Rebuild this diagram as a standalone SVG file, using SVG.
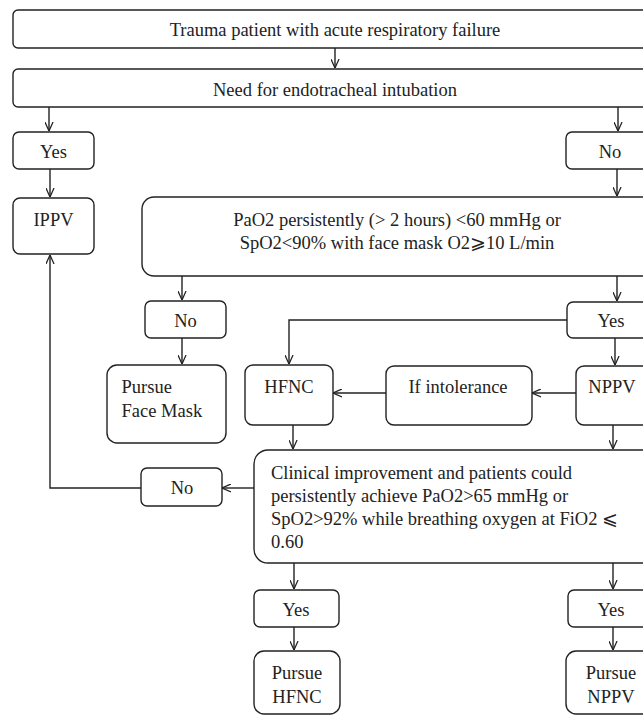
<svg xmlns="http://www.w3.org/2000/svg" width="643" height="715" viewBox="0 0 643 715">
<style>
.b{fill:#fff;stroke:#222;stroke-width:1.4}
.t{font-family:"Liberation Serif","Times New Roman",serif;font-size:18.5px;fill:#222}
.c{text-anchor:middle}
.l{fill:none;stroke:#222;stroke-width:1.4}
</style>
<defs>
<marker id="a" viewBox="0 0 10 10" refX="10" refY="5" markerWidth="9" markerHeight="9" markerUnits="userSpaceOnUse" orient="auto">
<path d="M0,0.5 L10,5 L0,9.5" fill="none" stroke="#222" stroke-width="1.4"/>
</marker>
</defs>
<rect width="643" height="715" fill="#fff"/>
<g id="connectors" class="l" marker-end="url(#a)">
<path d="M335,48 V68"/>
<path d="M49,107 V131"/>
<path d="M618,107 V131"/>
<path d="M50,169 V197"/>
<path d="M617,169 V196"/>
<path d="M182,276 V300"/>
<path d="M617,276 V301"/>
<path d="M182,338 V364"/>
<path d="M567,320 H289 V364"/>
<path d="M615,338 V365"/>
<path d="M576,393 H532"/>
<path d="M386,393 H333"/>
<path d="M293,425 V449"/>
<path d="M613,425 V449"/>
<path d="M254,488 H222"/>
<path d="M141,488 H50 V255"/>
<path d="M294,563 V589"/>
<path d="M613,563 V589"/>
<path d="M294,627 V650"/>
<path d="M613,627 V650"/>
</g>
<g id="n1"><rect class="b" x="13" y="10" width="650" height="38" rx="5"/><text class="t c" x="335" y="36">Trauma patient with acute respiratory failure</text></g>
<g id="n2"><rect class="b" x="13" y="69" width="650" height="38" rx="5"/><text class="t c" x="335" y="95.5">Need for endotracheal intubation</text></g>
<g id="n3"><rect class="b" x="13" y="132" width="81" height="37" rx="6"/><text class="t c" x="53.5" y="158">Yes</text></g>
<g id="n4"><rect class="b" x="566" y="132" width="90" height="37" rx="6"/><text class="t c" x="610" y="158">No</text></g>
<g id="n5"><rect class="b" x="13" y="198" width="81" height="56" rx="7"/><text class="t c" x="53.5" y="226">IPPV</text></g>
<g id="n6"><rect class="b" x="142" y="197" width="520" height="79" rx="12"/><text class="t c" x="397" y="226">PaO2 persistently (&gt; 2 hours) &lt;60 mmHg or</text><text class="t c" x="397" y="248.5">SpO2&lt;90% with face mask O2⩾10 L/min</text></g>
<g id="n7"><rect class="b" x="145" y="301" width="81" height="37" rx="6"/><text class="t c" x="185.5" y="327">No</text></g>
<g id="n8"><rect class="b" x="107" y="365" width="119" height="78" rx="10"/><text class="t" x="121.5" y="393">Pursue</text><text class="t" x="121.5" y="417">Face Mask</text></g>
<g id="n9"><rect class="b" x="567" y="302" width="90" height="36" rx="6"/><text class="t c" x="611" y="327">Yes</text></g>
<g id="n10"><rect class="b" x="245" y="365" width="88" height="60" rx="8"/><text class="t c" x="289" y="393">HFNC</text></g>
<g id="n11"><rect class="b" x="386" y="366" width="146" height="59" rx="8"/><text class="t c" x="458" y="393">If intolerance</text></g>
<g id="n12"><rect class="b" x="576" y="366" width="80" height="59" rx="8"/><text class="t c" x="612" y="393">NPPV</text></g>
<g id="n13"><rect class="b" x="254" y="450" width="410" height="113" rx="14"/><text class="t" x="271" y="478.5">Clinical improvement and patients could</text><text class="t" x="271" y="501.5">persistently achieve PaO2&gt;65 mmHg or</text><text class="t" x="271" y="524.5">SpO2&gt;92% while breathing oxygen at FiO2 ⩽</text><text class="t" x="271" y="547.5">0.60</text></g>
<g id="n14"><rect class="b" x="141" y="468" width="81" height="38" rx="6"/><text class="t c" x="182" y="494">No</text></g>
<g id="n15"><rect class="b" x="254" y="590" width="85" height="37" rx="6"/><text class="t c" x="296" y="615.5">Yes</text></g>
<g id="n16"><rect class="b" x="568" y="590" width="90" height="37" rx="6"/><text class="t c" x="611" y="615.5">Yes</text></g>
<g id="n17"><rect class="b" x="254" y="651" width="86" height="63" rx="10"/><text class="t c" x="297" y="679">Pursue</text><text class="t c" x="297" y="703">HFNC</text></g>
<g id="n18"><rect class="b" x="566" y="651" width="95" height="63" rx="10"/><text class="t c" x="611" y="679">Pursue</text><text class="t c" x="611" y="703">NPPV</text></g>
</svg>
